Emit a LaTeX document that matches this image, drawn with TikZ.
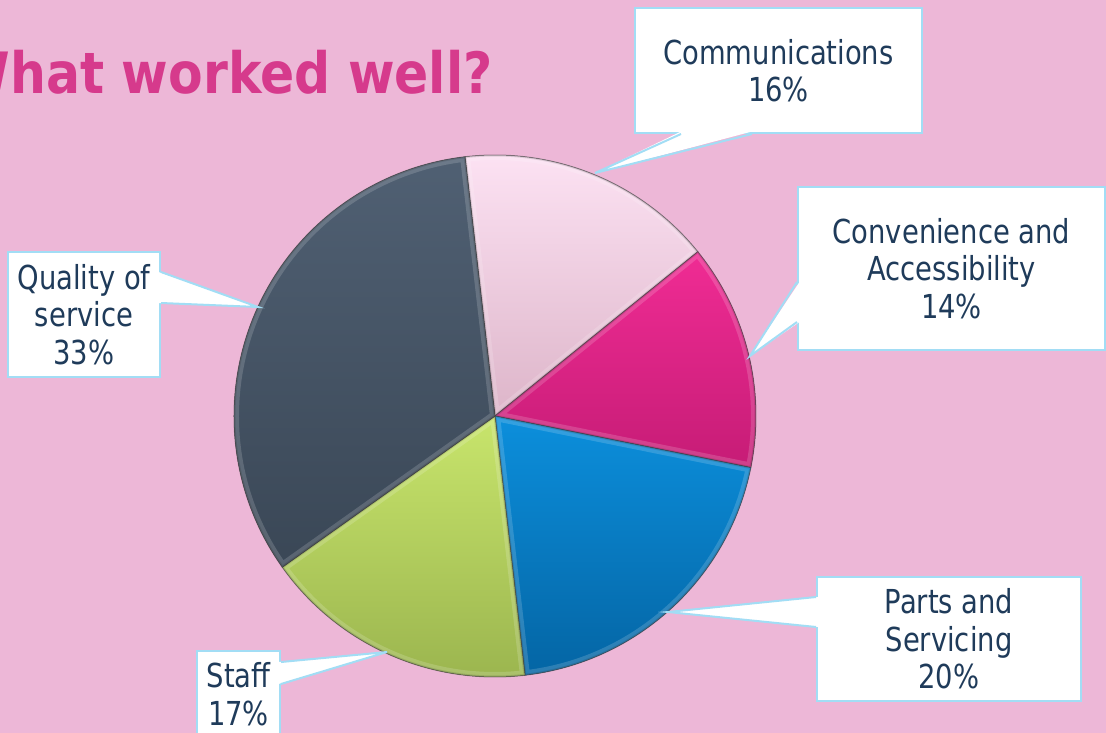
\documentclass[tikz,border=0pt]{standalone}
\usepackage{fontspec}
\usepackage{xcolor}
\usepackage{tikz}
\newfontfamily\labelfont{DejaVu Sans}[FakeStretch=0.83]
\newfontfamily\headfont{DejaVu Sans}[FakeStretch=0.885]
\definecolor{bg}{HTML}{EDB7D7}
\definecolor{rim}{HTML}{A2DDF5}
\definecolor{ink}{HTML}{1F3B5A}
\definecolor{headpink}{HTML}{D63A8C}
\definecolor{commhi}{HTML}{FDE3F4}
\definecolor{commlo}{HTML}{DDB5C9}
\definecolor{convhi}{HTML}{F02C94}
\definecolor{convlo}{HTML}{C61C76}
\definecolor{partshi}{HTML}{0C8FDC}
\definecolor{partslo}{HTML}{0465A4}
\definecolor{staffhi}{HTML}{C8E56C}
\definecolor{stafflo}{HTML}{9AB44E}
\definecolor{qualhi}{HTML}{506073}
\definecolor{quallo}{HTML}{3A4756}
\tikzset{
  callout/.style={draw=rim, line width=2pt, fill=white, inner sep=0pt,
    align=center, text=ink, font={\labelfont\fontsize{33}{37.5}\selectfont}},
  rim line/.style={draw=rim, line width=2pt, line join=miter},
  slice edge/.style={draw=black!75, line width=1pt, opacity=.5},
}
\newcommand*{\slice}[2]{(pie) -- ++(#1:261pt) arc[start angle=#1, end angle=#2, radius=261pt] -- cycle}

\begin{document}
\begin{tikzpicture}[x=1pt, y=1pt]
    \useasboundingbox (0,0) rectangle (1106,-733);
    \clip (0,0) rectangle (1106,-733);
    \fill[bg] (0,0) rectangle (1106,-733);
    \node[anchor=base east, inner sep=0pt, text=headpink,
      font={\headfont\bfseries\fontsize{57}{60}\selectfont}] (title) at (493,-94) {What worked well?};
    \coordinate (pie) at (495,-416);
    \foreach \a/\b/\hi/\lo in {96.6/39/commhi/commlo, 39/-11.4/convhi/convlo,
        -11.4/-83.4/partshi/partslo, -83.4/-144.6/staffhi/stafflo, -144.6/-263.4/qualhi/quallo} {
      \fill[top color=\hi, bottom color=\lo] \slice{\a}{\b};
      \begin{scope}
        \clip \slice{\a}{\b};
        \draw[white, opacity=.16, line width=10pt] \slice{\a}{\b};
        \draw[black, opacity=.1, line width=3pt] \slice{\a}{\b};
      \end{scope}
      \draw[slice edge] \slice{\a}{\b};
    }
    \node[callout, minimum width=287pt, minimum height=125pt] (comm) at (778.5,-70.5) {Communications\\16\%};
    \node[callout, minimum width=307pt, minimum height=163pt] (conv) at (951.5,-268.5) {Convenience and\\Accessibility\\14\%};
    \node[callout, minimum width=264pt, minimum height=124pt] (parts) at (949,-639) {Parts and\\Servicing\\20\%};
    \node[callout, minimum width=152pt, minimum height=125pt] (qual) at (84,-314.5) {Quality of\\service\\33\%};
    \node[callout, minimum width=83pt, minimum height=86pt] (staff) at (238.5,-694) {Staff\\17\%};
    \coordinate (comm-1) at ([xshift=47pt]comm.south west);
    \coordinate (comm-2) at ([xshift=118pt]comm.south west);
    \coordinate (comm-tip) at (595,-173);
    \coordinate (conv-1) at ([yshift=-96pt]conv.north west);
    \coordinate (conv-2) at ([yshift=-136pt]conv.north west);
    \coordinate (conv-tip) at (750,-356);
    \coordinate (parts-1) at ([yshift=-21pt]parts.north west);
    \coordinate (parts-2) at ([yshift=-51pt]parts.north west);
    \coordinate (parts-tip) at (668,-612);
    \coordinate (qual-1) at ([yshift=-21pt]qual.north east);
    \coordinate (qual-2) at ([yshift=-52pt]qual.north east);
    \coordinate (qual-tip) at (258,-307);
    \coordinate (staff-1) at ([yshift=-12pt]staff.north east);
    \coordinate (staff-2) at ([yshift=-34pt]staff.north east);
    \coordinate (staff-tip) at (387,-652);
    \foreach \n/\dx/\dy in {comm/0/2.5, conv/2.5/0, parts/2.5/0, qual/-2.5/0, staff/-2.5/0} {
      \fill[white] ([xshift=\dx pt, yshift=\dy pt]\n-1) -- (\n-tip) -- ([xshift=\dx pt, yshift=\dy pt]\n-2) -- cycle;
      \draw[rim line] (\n-1) -- (\n-tip) -- (\n-2);
    }
  \end{tikzpicture}
\end{document}
